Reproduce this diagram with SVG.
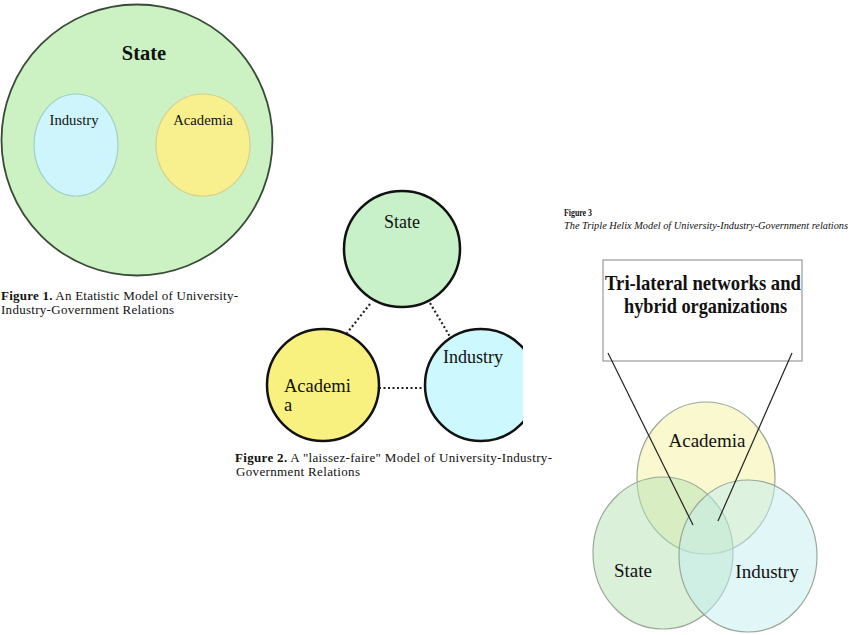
<svg xmlns="http://www.w3.org/2000/svg" width="851" height="635" viewBox="0 0 851 635">
<style>
.serif{font-family:"Liberation Serif","Times New Roman",serif;fill:#111}
.b{font-weight:bold}
.dot{stroke:#222;stroke-width:2.2;stroke-dasharray:2 2.5;fill:none}
.ln{stroke:#222;stroke-width:1.2;fill:none}
.c2{stroke:#111;stroke-width:2.5}
.c3{stroke:#9aa89a;stroke-width:1.2}
</style>
<rect width="851" height="635" fill="#fff"/>
<!-- Figure 1 -->
<g id="fig1-state">
<circle cx="137" cy="140" r="135.5" fill="#ccf1c3" stroke="#3a4a38" stroke-width="1.8"/>
<text class="serif b" x="144" y="60" font-size="20.5" text-anchor="middle">State</text>
</g>
<g id="fig1-industry">
<ellipse cx="76" cy="145" rx="42" ry="51" fill="#cdf5fb" stroke="#9fd0c8" stroke-width="1.2"/>
<text class="serif" x="74" y="125" font-size="14.7" text-anchor="middle">Industry</text>
</g>
<g id="fig1-academia">
<ellipse cx="203" cy="145" rx="47" ry="51" fill="#f8f08e" stroke="#d8d08a" stroke-width="1.2"/>
<text class="serif" x="203" y="125" font-size="14.7" text-anchor="middle">Academia</text>
</g>
<g id="fig1-caption">
<text class="serif" x="1" y="300" font-size="13" textLength="237" lengthAdjust="spacing"><tspan font-weight="bold">Figure 1.</tspan> An Etatistic Model of University-</text>
<text class="serif" x="1" y="314" font-size="13" textLength="173" lengthAdjust="spacing">Industry-Government Relations</text>
</g>
<!-- Figure 2 -->
<g id="fig2-connectors">
<line class="dot" x1="370" y1="304" x2="347" y2="333"/>
<line class="dot" x1="430" y1="303" x2="452" y2="340"/>
<line class="dot" x1="379" y1="388" x2="431" y2="388"/>
</g>
<g id="fig2-state">
<circle class="c2" cx="402" cy="249" r="58" fill="#c9f1c9"/>
<text class="serif" x="402" y="228" font-size="18" text-anchor="middle">State</text>
</g>
<g id="fig2-academia">
<circle class="c2" cx="323" cy="385" r="56" fill="#f8f07f"/>
<text class="serif" x="284" y="392" font-size="18.5">Academi</text>
<text class="serif" x="284" y="411" font-size="18.5">a</text>
</g>
<g id="fig2-industry">
<clipPath id="clipInd"><rect x="400" y="300" width="123" height="160"/></clipPath>
<circle class="c2" cx="481" cy="385" r="56" fill="#cdf8fd" clip-path="url(#clipInd)"/>
<text class="serif" x="443" y="363" font-size="18">Industry</text>
</g>
<g id="fig2-caption">
<text class="serif" x="235" y="462" font-size="13" textLength="317" lengthAdjust="spacing"><tspan font-weight="bold">Figure 2.</tspan> A "laissez-faire" Model of  University-Industry-</text>
<text class="serif" x="236" y="476" font-size="13" textLength="124" lengthAdjust="spacing">Government Relations</text>
</g>
<!-- Figure 3 -->
<g id="fig3-caption">
<text class="serif b" x="564" y="216" font-size="10" textLength="28" lengthAdjust="spacingAndGlyphs">Figure 3</text>
<text class="serif" x="564" y="229" font-size="10" font-style="italic" textLength="284" lengthAdjust="spacingAndGlyphs">The Triple Helix Model of University-Industry-Government relations</text>
</g>
<g id="fig3-box">
<rect x="603" y="260" width="199" height="101" fill="#fff" stroke="#999" stroke-width="1.2"/>
<text class="serif b" x="605" y="290" font-size="22" textLength="196" lengthAdjust="spacingAndGlyphs">Tri-lateral networks and</text>
<text class="serif b" x="624" y="313" font-size="22" textLength="163" lengthAdjust="spacingAndGlyphs">hybrid organizations</text>
</g>
<g id="fig3-academia">
<ellipse class="c3" cx="706" cy="478" rx="69" ry="76" fill="#f4f2a8" fill-opacity="0.55"/>
</g>
<g id="fig3-state">
<ellipse class="c3" cx="663" cy="553" rx="70" ry="76" fill="#b8e2b4" fill-opacity="0.5"/>
</g>
<g id="fig3-industry">
<ellipse class="c3" cx="748" cy="556" rx="69" ry="76" fill="#c4eef0" fill-opacity="0.5"/>
</g>
<g id="fig3-labels">
<text class="serif" x="707" y="447" font-size="19" text-anchor="middle">Academia</text>
<text class="serif" x="633" y="577" font-size="19" text-anchor="middle">State</text>
<text class="serif" x="767" y="578" font-size="19" text-anchor="middle">Industry</text>
</g>
<g id="fig3-connectors">
<line class="ln" x1="608" y1="353" x2="693" y2="525"/>
<line class="ln" x1="792" y1="353" x2="718" y2="521"/>
</g>
</svg>
